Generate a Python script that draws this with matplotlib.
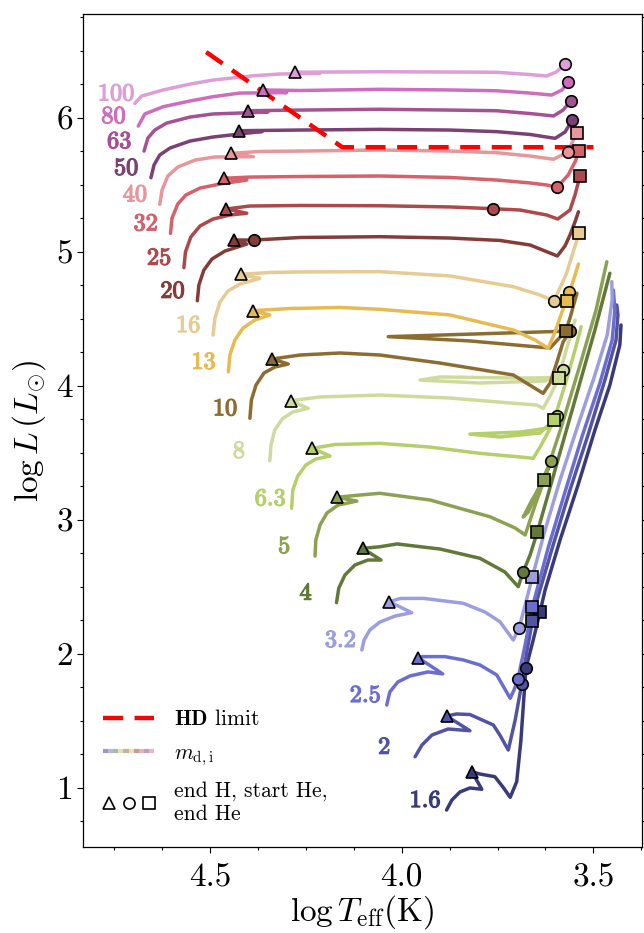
import matplotlib
matplotlib.use("Agg")
import matplotlib.pyplot as plt
import matplotlib.patheffects as pe
from matplotlib.lines import Line2D
from matplotlib.legend_handler import HandlerBase, HandlerTuple

plt.rcParams['font.family'] = 'serif'
plt.rcParams['font.serif'] = ['cmr10']
plt.rcParams['mathtext.fontset'] = 'cm'
plt.rcParams['axes.formatter.use_mathtext'] = True
plt.rcParams['axes.unicode_minus'] = False

# ---------------- data ----------------
masses = ['1.6', '2', '2.5', '3.2', '4', '5', '6.3', '8', '10', '13',
          '16', '20', '25', '32', '40', '50', '63', '80', '100']

T_1p6 = [3.883, 3.869, 3.848, 3.822, 3.791, 3.817, 3.796, 3.757, 3.736, 3.717, 3.700, 3.689, 3.676, 3.657, 3.639, 3.626, 3.587, 3.540, 3.496, 3.457, 3.431, 3.428]
L_1p6 = [0.833, 0.908, 0.968, 0.998, 0.988, 1.119, 1.102, 1.082, 1.005, 0.928, 1.045, 1.356, 1.891, 2.102, 2.313, 2.475, 2.848, 3.259, 3.669, 4.005, 4.304, 4.453]

T_2 = [3.965, 3.947, 3.921, 3.879, 3.822, 3.883, 3.857, 3.822, 3.761, 3.744, 3.722, 3.704, 3.687, 3.673, 3.659, 3.647, 3.605, 3.561, 3.514, 3.470, 3.441, 3.436, 3.439]
L_2 = [1.231, 1.319, 1.393, 1.438, 1.425, 1.535, 1.550, 1.546, 1.468, 1.393, 1.281, 1.505, 1.774, 2.028, 2.244, 2.400, 2.811, 3.222, 3.632, 4.042, 4.341, 4.528, 4.602]

T_2p5 = [4.039, 4.031, 4.010, 3.978, 3.931, 3.893, 3.957, 3.944, 3.887, 3.839, 3.796, 3.752, 3.717, 3.707, 3.697, 3.678, 3.659, 3.618, 3.574, 3.530, 3.483, 3.451, 3.444, 3.448]
L_2p5 = [1.617, 1.714, 1.789, 1.834, 1.864, 1.849, 1.970, 1.978, 1.978, 1.953, 1.916, 1.841, 1.667, 1.729, 1.809, 2.065, 2.351, 2.789, 3.207, 3.617, 4.020, 4.341, 4.565, 4.714]

T_3p2 = [4.104, 4.098, 4.083, 4.057, 4.017, 3.974, 4.032, 4.004, 3.944, 3.839, 3.783, 3.744, 3.709, 3.694, 3.678, 3.659, 3.626, 3.587, 3.540, 3.496, 3.464, 3.451, 3.452]
L_3p2 = [2.028, 2.102, 2.177, 2.236, 2.281, 2.306, 2.388, 2.412, 2.413, 2.376, 2.311, 2.239, 2.102, 2.190, 2.363, 2.575, 2.923, 3.296, 3.707, 4.080, 4.378, 4.640, 4.776]

T_4 = [4.170, 4.164, 4.148, 4.122, 4.088, 4.054, 4.102, 4.057, 4.012, 3.900, 3.796, 3.731, 3.696, 3.683, 3.665, 3.646, 3.600, 3.548, 3.496, 3.457]
L_4 = [2.381, 2.490, 2.587, 2.662, 2.699, 2.699, 2.786, 2.798, 2.819, 2.781, 2.712, 2.610, 2.500, 2.612, 2.737, 2.910, 3.371, 3.893, 4.416, 4.839]

T_5 = [4.226, 4.224, 4.213, 4.195, 4.166, 4.117, 4.170, 4.109, 4.057, 3.926, 3.770, 3.704, 3.678, 3.652, 3.610, 3.639, 3.670, 3.683, 3.660, 3.629, 3.582, 3.535, 3.493, 3.465]
L_5 = [2.729, 2.848, 2.960, 3.050, 3.109, 3.139, 3.167, 3.184, 3.197, 3.147, 3.022, 2.938, 2.886, 3.109, 3.440, 3.259, 3.057, 3.020, 3.147, 3.296, 3.707, 4.154, 4.565, 4.925]

T_6p3 = [4.287, 4.284, 4.271, 4.250, 4.224, 4.187, 4.233, 4.174, 4.057, 3.926, 3.796, 3.691, 3.657, 3.639, 3.618, 3.596, 3.618, 3.691, 3.822, 3.744, 3.639, 3.603, 3.574, 3.548, 3.532]
L_6p3 = [3.085, 3.222, 3.326, 3.408, 3.453, 3.475, 3.533, 3.561, 3.570, 3.542, 3.495, 3.468, 3.458, 3.542, 3.654, 3.776, 3.684, 3.654, 3.639, 3.617, 3.647, 3.744, 4.005, 4.266, 4.440]

T_8 = [4.344, 4.341, 4.331, 4.312, 4.284, 4.244, 4.290, 4.213, 4.057, 3.874, 3.717, 3.648, 3.631, 3.613, 3.597, 3.580, 3.626, 3.796, 3.952, 3.900, 3.691, 3.591, 3.571, 3.548]
L_8 = [3.440, 3.557, 3.669, 3.751, 3.804, 3.831, 3.888, 3.916, 3.930, 3.908, 3.871, 3.856, 3.831, 3.923, 4.020, 4.117, 4.035, 4.020, 4.042, 4.065, 4.057, 4.060, 4.266, 4.490]

T_10 = [4.396, 4.392, 4.380, 4.359, 4.331, 4.296, 4.338, 4.265, 4.161, 4.057, 3.900, 3.709, 3.631, 3.613, 3.595, 3.579, 3.561, 3.639, 4.035, 3.822, 3.613, 3.572, 3.561, 3.543]
L_10 = [3.757, 3.893, 4.005, 4.095, 4.139, 4.162, 4.199, 4.229, 4.244, 4.229, 4.169, 4.080, 3.943, 4.020, 4.177, 4.326, 4.408, 4.401, 4.366, 4.334, 4.281, 4.408, 4.505, 4.690]

T_13 = [4.452, 4.448, 4.435, 4.414, 4.383, 4.344, 4.389, 4.291, 4.161, 4.057, 3.874, 3.709, 3.652, 3.618, 3.600, 3.582, 3.563, 3.579, 3.570, 3.556, 3.539]
L_13 = [4.104, 4.229, 4.341, 4.430, 4.490, 4.528, 4.560, 4.576, 4.584, 4.570, 4.528, 4.416, 4.341, 4.279, 4.401, 4.550, 4.701, 4.617, 4.634, 4.751, 4.908]

T_16 = [4.492, 4.487, 4.474, 4.453, 4.422, 4.370, 4.420, 4.344, 4.265, 4.057, 3.874, 3.709, 3.639, 3.604, 3.592, 3.570, 3.556, 3.537]
L_16 = [4.378, 4.505, 4.625, 4.707, 4.759, 4.801, 4.831, 4.845, 4.849, 4.851, 4.819, 4.739, 4.677, 4.634, 4.699, 4.839, 4.968, 5.142]

T_20 = [4.533, 4.529, 4.516, 4.495, 4.461, 4.404, 4.438, 4.385, 4.265, 4.057, 3.874, 3.744, 3.665, 3.594, 3.574, 3.561, 3.548, 3.539]
L_20 = [4.634, 4.751, 4.863, 4.945, 5.005, 5.057, 5.087, 5.087, 5.106, 5.112, 5.102, 5.084, 5.050, 4.968, 5.043, 5.125, 5.222, 5.298]

T_25 = [4.568, 4.564, 4.550, 4.526, 4.492, 4.448, 4.404, 4.457, 4.396, 4.265, 4.057, 3.874, 3.763, 3.691, 3.622, 3.593, 3.561, 3.548, 3.535]
L_25 = [4.881, 4.998, 5.110, 5.192, 5.244, 5.274, 5.287, 5.319, 5.341, 5.345, 5.343, 5.334, 5.321, 5.311, 5.274, 5.244, 5.311, 5.423, 5.565]

T_32 = [4.603, 4.599, 4.584, 4.563, 4.526, 4.474, 4.404, 4.463, 4.396, 4.265, 4.057, 3.874, 3.752, 3.665, 3.622, 3.595, 3.566, 3.548, 3.537]
L_32 = [5.137, 5.251, 5.356, 5.423, 5.475, 5.505, 5.535, 5.548, 5.557, 5.561, 5.565, 5.554, 5.535, 5.513, 5.498, 5.480, 5.572, 5.669, 5.754]

T_40 = [4.631, 4.625, 4.610, 4.584, 4.539, 4.487, 4.387, 4.445, 4.370, 4.265, 4.057, 3.874, 3.752, 3.665, 3.604, 3.565, 3.556, 3.543]
L_40 = [5.354, 5.460, 5.565, 5.632, 5.684, 5.707, 5.709, 5.734, 5.748, 5.751, 5.759, 5.751, 5.739, 5.714, 5.690, 5.746, 5.811, 5.888]

T_50 = [4.654, 4.646, 4.631, 4.604, 4.552, 4.492, 4.364, 4.424, 4.265, 4.057, 3.874, 3.752, 3.665, 3.600, 3.574, 3.555]
L_50 = [5.552, 5.647, 5.722, 5.774, 5.826, 5.856, 5.897, 5.903, 5.908, 5.913, 5.908, 5.896, 5.875, 5.846, 5.893, 5.983]

T_63 = [4.672, 4.662, 4.644, 4.613, 4.552, 4.492, 4.349, 4.402, 4.265, 4.057, 3.874, 3.752, 3.665, 3.604, 3.579, 3.559]
L_63 = [5.751, 5.848, 5.908, 5.960, 6.005, 6.028, 6.042, 6.052, 6.057, 6.063, 6.057, 6.052, 6.031, 6.013, 6.057, 6.127]

T_80 = [4.687, 4.670, 4.622, 4.552, 4.492, 4.422, 4.300, 4.363, 4.265, 4.057, 3.874, 3.752, 3.665, 3.609, 3.582, 3.565]
L_80 = [5.938, 6.028, 6.082, 6.125, 6.157, 6.184, 6.187, 6.207, 6.203, 6.212, 6.207, 6.201, 6.184, 6.169, 6.207, 6.269]

T_100 = [4.696, 4.678, 4.622, 4.552, 4.492, 4.387, 4.318, 4.213, 4.278, 4.187, 4.057, 3.874, 3.752, 3.665, 3.622, 3.597, 3.574]
L_100 = [6.107, 6.162, 6.207, 6.251, 6.281, 6.313, 6.326, 6.331, 6.339, 6.341, 6.343, 6.341, 6.339, 6.322, 6.311, 6.341, 6.398]

# end of H burning (triangles)
endH_T = [3.817, 3.883, 3.957, 4.032, 4.102, 4.170, 4.233, 4.290, 4.338, 4.389,
          4.420, 4.438, 4.457, 4.463, 4.445, 4.424, 4.402, 4.363, 4.278]
endH_L = [1.119, 1.535, 1.970, 2.388, 2.786, 3.167, 3.533, 3.888, 4.199, 4.560,
          4.831, 5.087, 5.319, 5.548, 5.734, 5.903, 6.052, 6.207, 6.339]
# start of He burning (circles)
startHe_T = [3.676, 3.687, 3.697, 3.694, 3.683, 3.610, 3.596, 3.580, 3.561, 3.563,
             3.604, 4.385, 3.763, 3.595, 3.565, 3.555, 3.559, 3.565, 3.574]
startHe_L = [1.891, 1.774, 1.809, 2.190, 2.612, 3.440, 3.776, 4.117, 4.408, 4.701,
             4.634, 5.087, 5.321, 5.480, 5.746, 5.983, 6.127, 6.269, 6.398]
# end of He burning (squares); None = not reached
endHe_T = [3.639, 3.659, 3.659, 3.659, 3.646, 3.629, 3.603, 3.591, 3.572, 3.570,
           3.537, None, 3.535, 3.537, 3.543, None, None, None, None]
endHe_L = [2.313, 2.244, 2.351, 2.575, 2.910, 3.296, 3.744, 4.060, 4.408, 4.634,
           5.142, None, 5.565, 5.754, 5.888, None, None, None, None]

# Humphreys-Davidson limit
HD_T = [4.51, 4.155, 3.50]
HD_L = [6.49, 5.78, 5.78]

tracks_T = [T_1p6, T_2, T_2p5, T_3p2, T_4, T_5, T_6p3, T_8, T_10, T_13,
            T_16, T_20, T_25, T_32, T_40, T_50, T_63, T_80, T_100]
tracks_L = [L_1p6, L_2, L_2p5, L_3p2, L_4, L_5, L_6p3, L_8, L_10, L_13,
            L_16, L_20, L_25, L_32, L_40, L_50, L_63, L_80, L_100]

# ---------------- style ----------------
cmap = plt.get_cmap('tab20b')
color_idx = [0, 1, 2, 3, 4, 5, 6, 7, 8, 10, 11, 12, 13, 14, 15, 16, 17, 18, 19]
colors = [cmap(i) for i in color_idx]

W, H = 644, 933
fig = plt.figure(figsize=(W / 100, H / 100), dpi=100)
ax = fig.add_axes([82.7 / W, 1 - 846.5 / H, (641.7 - 82.7) / W, (846.5 - 14) / H])

for i, m in enumerate(masses):
    c = colors[i]
    ax.plot(tracks_T[i], tracks_L[i], color=c, lw=2.5, zorder=2 + i * 0.01,
            solid_joinstyle='round', solid_capstyle='round')
    ax.annotate(r'$\mathbf{' + m + '}$', xy=(tracks_T[i][0], tracks_L[i][0]),
                xytext=(-37, 9), textcoords='offset pixels', ha='left', va='center',
                color=c, fontsize=17.5, zorder=5,
                path_effects=[pe.withStroke(linewidth=0.9, foreground=c)])

hd, = ax.plot(HD_T, HD_L, color='#ff0000', lw=3.2, ls=(0, (4.5, 2.6)), zorder=3)

mk = dict(ls='none', mec='black', mew=1.2, ms=8.3, zorder=6)
for i in range(len(masses)):
    c = colors[i]
    ax.plot(endH_T[i], endH_L[i], marker='^', mfc=c, **mk)
    ax.plot(startHe_T[i], startHe_L[i], marker='o', mfc=c, **mk)
    if endHe_T[i] is not None:
        ax.plot(endHe_T[i], endHe_L[i], marker='s', mfc=c, **mk)

ax.set_xlim(4.832, 3.374)
ax.set_ylim(0.561, 6.774)
ax.set_xticks([4.5, 4.0, 3.5])
ax.set_xticks([4.75, 4.625, 4.375, 4.25, 4.125, 3.875, 3.75, 3.625, 3.375], minor=True)
ax.set_yticks([1, 2, 3, 4, 5, 6])
ax.set_yticks([0.75, 1.25, 1.5, 1.75, 2.25, 2.5, 2.75, 3.25, 3.5, 3.75, 4.25, 4.5,
               4.75, 5.25, 5.5, 5.75, 6.25, 6.5, 6.75], minor=True)
ax.set_xticklabels(['4.5', '4.0', '3.5'])
ax.set_yticklabels(['1', '2', '3', '4', '5', '6'])
ax.tick_params(which='both', direction='out', right=True, width=0.8)
ax.tick_params(which='major', length=4.5, labelsize=24)
ax.tick_params(axis='y', which='major', pad=2.5)
ax.tick_params(axis='x', which='major', pad=7.5)
ax.tick_params(which='minor', length=2.5)
for s in ax.spines.values():
    s.set_linewidth(0.9)

ax.set_xlabel(r'$\log T_{\rm eff}({\rm K})$', fontsize=24, labelpad=1)
ax.set_ylabel(r'$\log L\,(L_{\odot})$', fontsize=24, labelpad=6)


class HandlerMulti(HandlerBase):
    def __init__(self, cols, **kw):
        super().__init__(**kw)
        self.cols = cols

    def create_artists(self, legend, orig_handle, xdescent, ydescent, width,
                       height, fontsize, trans):
        n = len(self.cols)
        y = height / 2 - ydescent
        arts = []
        for k, c in enumerate(self.cols):
            x0 = -xdescent + width * k / n
            x1 = -xdescent + width * (k + 1) / n
            ln = Line2D([x0, x1], [y, y], color=c, lw=3, alpha=0.5,
                        solid_capstyle='butt')
            ln.set_transform(trans)
            arts.append(ln)
        return arts


md_handle = Line2D([], [], color='gray')
leg_cols = [cmap(i) for i in [0, 2, 4, 6, 8, 10, 12, 14, 16, 18]]
tri_h = Line2D([], [], marker='^', ls='none', mfc='white', mec='black', mew=1.2, ms=8)
cir_h = Line2D([], [], marker='o', ls='none', mfc='white', mec='black', mew=1.2, ms=8)
sq_h = Line2D([], [], marker='s', ls='none', mfc='white', mec='black', mew=1.2, ms=8)

ax.legend([hd, md_handle, (tri_h, cir_h, sq_h)],
          [r'$\mathbf{HD}$ limit', r'$m_{\rm d,i}$', 'end H, start He,\nend He'],
          handler_map={md_handle: HandlerMulti(leg_cols),
                       tuple: HandlerTuple(ndivide=None, pad=0.4)},
          loc='lower left', bbox_to_anchor=(0.036, 0.027), frameon=False,
          fontsize=15.5, handlelength=2.4, handletextpad=0.9, labelspacing=0.65,
          borderaxespad=0, borderpad=0)

fig.savefig('out.png', dpi=100)
